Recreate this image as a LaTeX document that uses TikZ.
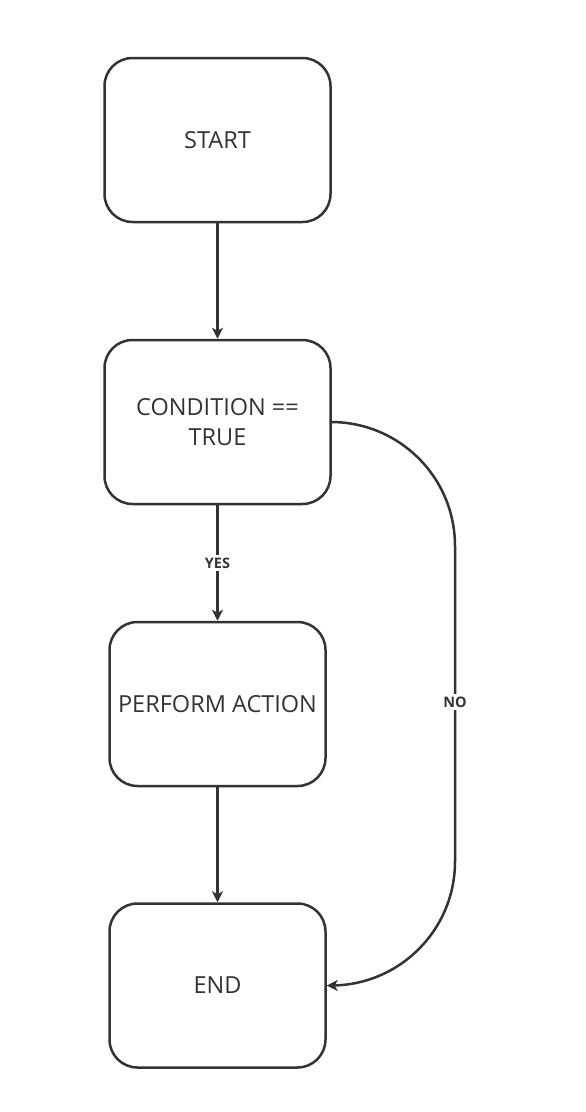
\documentclass[tikz,border=0pt]{standalone}
\usepackage{fontspec}
\setmainfont{Open Sans}
\usepackage{tikz}
\usetikzlibrary{arrows.meta,calc,positioning}

\definecolor{ink}{HTML}{333333}

\begin{document}
\begin{tikzpicture}[x=1pt,y=-1pt,line width=2.5pt,draw=ink,
    stepbox/.style={rectangle, rounded corners=28pt, draw=ink, minimum height=164pt, align=center, font=\fontsize{23.5}{30}\selectfont, text=ink},
    flow/.style={-{Stealth[length=11pt,width=11pt,inset=3pt]}, draw=ink},
    lbl/.style={fill=white, inner sep=3pt, font=\fontsize{14.5}{16}\selectfont\bfseries, text=ink}]
    \useasboundingbox (0,0) rectangle (586,1112);
    \node(start) [stepbox, minimum width=226pt] at (217.5,140) {START};
    \node(cond) [stepbox, minimum width=226pt, below=115.5pt of start] {CONDITION ==\\TRUE};
    \node(act) [stepbox, minimum width=216pt, below=115.5pt of cond] {PERFORM ACTION};
    \node(end) [stepbox, minimum width=216pt, below=115pt of act] {END};
    \coordinate(noturn) at (455,702);
    \draw[flow] (start) -- (cond);
    \draw[flow] (cond) -- node[lbl]{YES} (act);
    \draw[flow] (act) -- (end);
    \draw[flow, rounded corners=124pt] (cond.east) -| (noturn) |- (end.east);
    \node(no) [lbl] at (noturn) {NO};
  \end{tikzpicture}
\end{document}
